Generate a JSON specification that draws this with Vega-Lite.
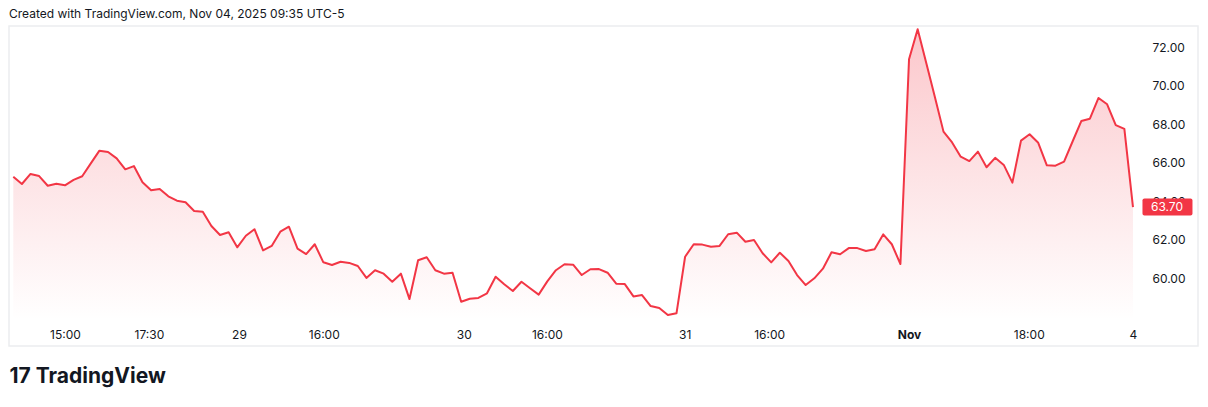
{
  "$schema": "https://vega.github.io/schema/vega-lite/v6.json",
  "autosize": {"type": "none"},
  "width": 1189,
  "height": 320,
  "padding": {"left": 9, "top": 26, "right": 10, "bottom": 61},
  "background": "#ffffff",
  "config": {
    "font": "Inter",
    "view": {"stroke": "#ebedf0", "strokeWidth": 1.5}
  },
  "title": {
    "text": "Created with TradingView.com, Nov 04, 2025 09:35 UTC-5",
    "anchor": "start",
    "frame": "group",
    "font": "Inter",
    "fontSize": 12,
    "fontWeight": "normal",
    "color": "#131722",
    "baseline": "bottom",
    "offset": 6,
    "dy": 13
  },
  "data": {
    "values": [
      {"i": 0, "v": 65.28}, {"i": 1, "v": 64.90}, {"i": 2, "v": 65.42}, {"i": 3, "v": 65.31}, {"i": 4, "v": 64.81},
      {"i": 5, "v": 64.91}, {"i": 6, "v": 64.83}, {"i": 7, "v": 65.11}, {"i": 8, "v": 65.30}, {"i": 9, "v": 65.97},
      {"i": 10, "v": 66.63}, {"i": 11, "v": 66.56}, {"i": 12, "v": 66.23}, {"i": 13, "v": 65.66}, {"i": 14, "v": 65.83},
      {"i": 15, "v": 64.99}, {"i": 16, "v": 64.57}, {"i": 17, "v": 64.64}, {"i": 18, "v": 64.26}, {"i": 19, "v": 64.03},
      {"i": 20, "v": 63.95}, {"i": 21, "v": 63.50}, {"i": 22, "v": 63.46}, {"i": 23, "v": 62.72}, {"i": 24, "v": 62.25},
      {"i": 25, "v": 62.39}, {"i": 26, "v": 61.61}, {"i": 27, "v": 62.21}, {"i": 28, "v": 62.55}, {"i": 29, "v": 61.45},
      {"i": 30, "v": 61.68}, {"i": 31, "v": 62.42}, {"i": 32, "v": 62.68}, {"i": 33, "v": 61.54}, {"i": 34, "v": 61.26},
      {"i": 35, "v": 61.77}, {"i": 36, "v": 60.83}, {"i": 37, "v": 60.69}, {"i": 38, "v": 60.86}, {"i": 39, "v": 60.80},
      {"i": 40, "v": 60.64}, {"i": 41, "v": 60.02}, {"i": 42, "v": 60.42}, {"i": 43, "v": 60.24}, {"i": 44, "v": 59.82},
      {"i": 45, "v": 60.24}, {"i": 46, "v": 58.92}, {"i": 47, "v": 60.94}, {"i": 48, "v": 61.09}, {"i": 49, "v": 60.42},
      {"i": 50, "v": 60.24}, {"i": 51, "v": 60.29}, {"i": 52, "v": 58.78}, {"i": 53, "v": 58.94}, {"i": 54, "v": 58.98},
      {"i": 55, "v": 59.22}, {"i": 56, "v": 60.08}, {"i": 57, "v": 59.69}, {"i": 58, "v": 59.34}, {"i": 59, "v": 59.82},
      {"i": 60, "v": 59.48}, {"i": 61, "v": 59.15}, {"i": 62, "v": 59.84}, {"i": 63, "v": 60.42}, {"i": 64, "v": 60.73},
      {"i": 65, "v": 60.71}, {"i": 66, "v": 60.17}, {"i": 67, "v": 60.47}, {"i": 68, "v": 60.48}, {"i": 69, "v": 60.29},
      {"i": 70, "v": 59.72}, {"i": 71, "v": 59.70}, {"i": 72, "v": 59.06}, {"i": 73, "v": 59.13}, {"i": 74, "v": 58.56},
      {"i": 75, "v": 58.46}, {"i": 76, "v": 58.09}, {"i": 77, "v": 58.18}, {"i": 78, "v": 61.12}, {"i": 79, "v": 61.77},
      {"i": 80, "v": 61.75}, {"i": 81, "v": 61.64}, {"i": 82, "v": 61.68}, {"i": 83, "v": 62.29}, {"i": 84, "v": 62.37},
      {"i": 85, "v": 61.90}, {"i": 86, "v": 61.99}, {"i": 87, "v": 61.30}, {"i": 88, "v": 60.83}, {"i": 89, "v": 61.33},
      {"i": 90, "v": 60.90}, {"i": 91, "v": 60.17}, {"i": 92, "v": 59.65}, {"i": 93, "v": 60.00}, {"i": 94, "v": 60.50},
      {"i": 95, "v": 61.35}, {"i": 96, "v": 61.25}, {"i": 97, "v": 61.57}, {"i": 98, "v": 61.57}, {"i": 99, "v": 61.42},
      {"i": 100, "v": 61.51}, {"i": 101, "v": 62.28}, {"i": 102, "v": 61.77}, {"i": 103, "v": 60.74}, {"i": 104, "v": 71.38},
      {"i": 105, "v": 72.94}, {"i": 106, "v": 71.18}, {"i": 107, "v": 69.42}, {"i": 108, "v": 67.62}, {"i": 109, "v": 67.06},
      {"i": 110, "v": 66.32}, {"i": 111, "v": 66.09}, {"i": 112, "v": 66.58}, {"i": 113, "v": 65.77}, {"i": 114, "v": 66.26},
      {"i": 115, "v": 65.89}, {"i": 116, "v": 64.97}, {"i": 117, "v": 67.15}, {"i": 118, "v": 67.48}, {"i": 119, "v": 67.04},
      {"i": 120, "v": 65.87}, {"i": 121, "v": 65.85}, {"i": 122, "v": 66.06}, {"i": 123, "v": 67.12}, {"i": 124, "v": 68.17},
      {"i": 125, "v": 68.29}, {"i": 126, "v": 69.37}, {"i": 127, "v": 69.04}, {"i": 128, "v": 67.96}, {"i": 129, "v": 67.76},
      {"i": 130, "v": 63.70}
    ]
  },
  "encoding": {
    "x": {
      "field": "i",
      "type": "quantitative",
      "scale": {"domain": [-0.499, 137.55], "nice": false, "zero": false},
      "axis": {
        "orient": "bottom",
        "offset": -26,
        "domain": false,
        "ticks": false,
        "grid": false,
        "values": [6, 15.75, 26.2, 36.05, 52.3, 61.95, 77.95, 87.75, 104, 117.9, 130],
        "labelExpr": "datum.value < 10 ? '15:00' : datum.value < 20 ? '17:30' : datum.value < 30 ? '29' : datum.value < 40 ? '16:00' : datum.value < 55 ? '30' : datum.value < 70 ? '16:00' : datum.value < 80 ? '31' : datum.value < 95 ? '16:00' : datum.value < 110 ? 'Nov' : datum.value < 125 ? '18:00' : '4'",
        "labelFont": "Inter",
        "labelFontSize": 12,
        "labelColor": "#131722",
        "labelFontWeight": {"condition": {"test": "datum.value == 104", "value": "bold"}, "value": "normal"},
        "labelPadding": 9,
        "labelFlush": false,
        "labelOverlap": false,
        "title": "17 TradingView",
        "titleAnchor": "start",
        "titleFont": "Inter",
        "titleFontSize": 21,
        "titleFontWeight": 700,
        "titleColor": "#131722",
        "titlePadding": 25
      }
    },
    "y": {
      "field": "v",
      "type": "quantitative",
      "scale": {"domain": [56.483, 73.107], "nice": false, "zero": false},
      "axis": {
        "orient": "right",
        "offset": -58,
        "domain": false,
        "ticks": false,
        "grid": false,
        "values": [60, 62, 64, 66, 68, 70, 72],
        "format": ".2f",
        "labelFont": "Inter",
        "labelFontSize": 12,
        "labelColor": "#131722",
        "labelPadding": 12,
        "title": null
      }
    }
  },
  "layer": [
    {
      "mark": {
        "type": "area",
        "fill": {
          "gradient": "linear",
          "x1": 0, "y1": 0, "x2": 0, "y2": 1,
          "stops": [
            {"offset": 0, "color": "rgba(242,54,69,0.28)"},
            {"offset": 1, "color": "rgba(242,54,69,0.0)"}
          ]
        }
      },
      "encoding": {"y2": {"datum": 57.83}}
    },
    {
      "mark": {"type": "line", "color": "#F23645", "strokeWidth": 2, "strokeJoin": "round"},
      "encoding": {}
    },
    {
      "transform": [{"filter": "datum.i == 130"}],
      "mark": {"type": "rect", "color": "#F23645", "cornerRadius": 2, "xOffset": 9.5, "x2Offset": 59.5, "yOffset": -8.5, "y2Offset": 8.5},
      "encoding": {"x2": {"field": "i"}, "y2": {"field": "v"}}
    },
    {
      "transform": [{"filter": "datum.i == 130"}],
      "mark": {"type": "text", "color": "#ffffff", "font": "Inter", "fontSize": 12, "align": "center", "baseline": "middle", "dx": 34},
      "encoding": {"text": {"field": "v", "type": "quantitative", "format": ".2f"}}
    }
  ]
}
